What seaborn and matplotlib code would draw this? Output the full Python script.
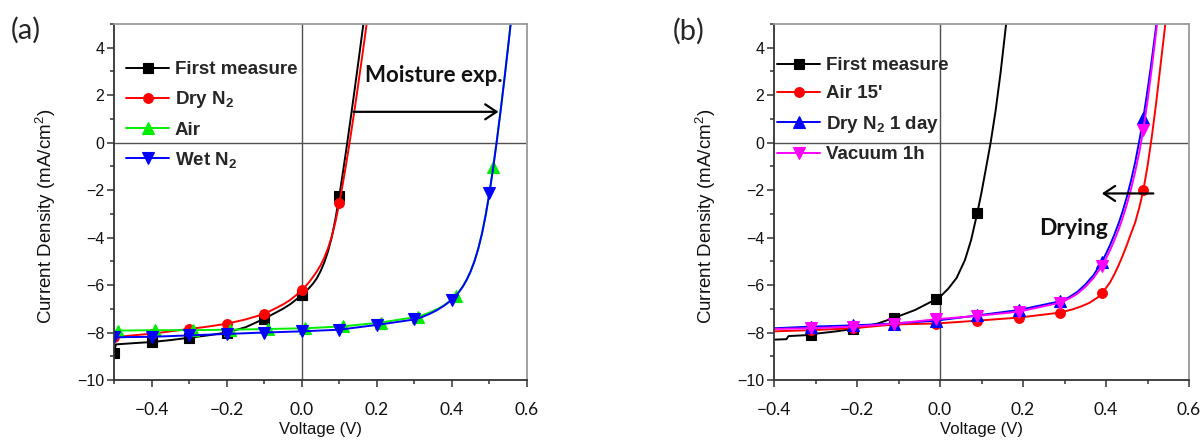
import numpy as np
import pandas as pd
import matplotlib
matplotlib.use("Agg")
import matplotlib.pyplot as plt
from matplotlib.ticker import MultipleLocator
import seaborn as sns

# ---------------- (a) moisture exposure ----------------
first_a_v = [-0.50, -0.495, -0.45, -0.40, -0.35, -0.30, -0.25, -0.20, -0.15, -0.10, -0.05,
             -0.03, -0.01, 0.00, 0.01, 0.02, 0.03, 0.04, 0.05, 0.06, 0.07, 0.08, 0.09,
             0.10, 0.11, 0.12, 0.13, 0.14, 0.15, 0.16, 0.17]
first_a_j = [-8.85, -8.50, -8.45, -8.40, -8.32, -8.22, -8.12, -8.00, -7.78, -7.42, -7.00,
             -6.80, -6.55, -6.42, -6.28, -6.12, -5.94, -5.72, -5.42, -5.05, -4.58, -3.98, -3.20,
             -2.25, -1.22, -0.14, 0.98, 2.13, 3.30, 4.50, 5.70]

drn2_a_v = [-0.50, -0.45, -0.40, -0.35, -0.30, -0.25, -0.20, -0.15, -0.10, -0.05, -0.03,
            -0.01, 0.00, 0.01, 0.02, 0.03, 0.04, 0.05, 0.06, 0.07, 0.08, 0.09, 0.10,
            0.11, 0.12, 0.13, 0.14, 0.15, 0.16, 0.17, 0.18]
drn2_a_j = [-8.20, -8.12, -8.05, -7.95, -7.85, -7.75, -7.63, -7.45, -7.22, -6.82, -6.62,
            -6.36, -6.21, -6.05, -5.87, -5.66, -5.43, -5.17, -4.85, -4.45, -3.95, -3.32, -2.55,
            -1.68, -0.74, 0.26, 1.31, 2.40, 3.52, 4.67, 5.85]

air_a_v = [-0.50, -0.49, -0.39, -0.29, -0.19, -0.09, 0.01, 0.11, 0.21, 0.31, 0.32, 0.34,
           0.36, 0.38, 0.40, 0.41, 0.42, 0.43, 0.44, 0.45, 0.46, 0.47, 0.48, 0.49, 0.50,
           0.51, 0.52, 0.53, 0.54, 0.55, 0.56]
air_a_j = [-7.93, -7.92, -7.90, -7.90, -7.88, -7.85, -7.82, -7.74, -7.58, -7.33, -7.28, -7.16,
           -7.02, -6.84, -6.60, -6.45, -6.26, -6.03, -5.75, -5.41, -4.99, -4.47, -3.83, -3.04, -2.10,
           -1.03, 0.14, 1.40, 2.72, 4.10, 5.52]

wetn2_a_v = [-0.50, -0.40, -0.30, -0.20, -0.10, 0.00, 0.10, 0.20, 0.30, 0.32, 0.34, 0.36,
             0.38, 0.40, 0.41, 0.42, 0.43, 0.44, 0.45, 0.46, 0.47, 0.48, 0.49, 0.50, 0.51,
             0.52, 0.53, 0.54, 0.55, 0.56]
wetn2_a_j = [-8.20, -8.18, -8.12, -8.06, -8.00, -7.95, -7.88, -7.68, -7.45, -7.35, -7.22, -7.06,
             -6.86, -6.62, -6.46, -6.27, -6.04, -5.76, -5.42, -5.00, -4.48, -3.84, -3.05, -2.12, -1.05,
             0.12, 1.38, 2.70, 4.08, 5.50]

# ---------------- (b) drying ----------------
first_b_v = [-0.40, -0.37, -0.365, -0.31, -0.30, -0.25, -0.21, -0.15, -0.11, -0.06, -0.01,
             0.00, 0.02, 0.04, 0.06, 0.075, 0.09, 0.10, 0.11, 0.122, 0.134, 0.146, 0.159, 0.168]
first_b_j = [-8.30, -8.28, -8.15, -8.10, -8.05, -7.95, -7.85, -7.62, -7.38, -7.05, -6.60,
             -6.50, -6.15, -5.70, -4.95, -4.10, -2.95, -2.10, -1.15, 0.00, 1.35, 2.95, 4.95, 6.40]

air15_b_v = [-0.40, -0.31, -0.21, -0.11, -0.01, 0.09, 0.19, 0.29, 0.32, 0.34, 0.36, 0.38,
             0.39, 0.40, 0.41, 0.42, 0.43, 0.44, 0.45, 0.46, 0.47, 0.48, 0.49, 0.50, 0.51,
             0.52, 0.53, 0.54, 0.55, 0.56]
air15_b_j = [-7.95, -7.90, -7.82, -7.66, -7.62, -7.50, -7.37, -7.16, -7.02, -6.90, -6.75, -6.52,
             -6.34, -6.12, -5.88, -5.55, -5.18, -4.77, -4.32, -3.84, -3.38, -2.75, -2.00, -1.00, 0.20,
             1.55, 3.05, 4.55, 6.10, 7.60]

dryday_b_v = [-0.40, -0.31, -0.21, -0.11, -0.01, 0.09, 0.19, 0.29, 0.31, 0.33, 0.35, 0.37,
              0.39, 0.40, 0.41, 0.42, 0.43, 0.44, 0.45, 0.46, 0.47, 0.48, 0.49, 0.50, 0.51,
              0.52, 0.53]
dryday_b_j = [-7.82, -7.75, -7.70, -7.62, -7.50, -7.28, -7.05, -6.68, -6.52, -6.30, -5.98, -5.58,
              -5.02, -4.68, -4.30, -3.88, -3.42, -2.90, -2.30, -1.62, -0.85, 0.05, 1.05, 2.20, 3.45,
              4.80, 6.20]

vac_b_v = [-0.40, -0.31, -0.21, -0.11, -0.01, 0.09, 0.19, 0.29, 0.31, 0.33, 0.35, 0.37,
           0.39, 0.40, 0.41, 0.42, 0.43, 0.44, 0.45, 0.46, 0.47, 0.48, 0.49, 0.50, 0.51,
           0.52, 0.53]
vac_b_j = [-7.85, -7.82, -7.75, -7.63, -7.44, -7.30, -7.12, -6.74, -6.58, -6.38, -6.08, -5.70,
           -5.20, -4.88, -4.52, -4.12, -3.68, -3.18, -2.62, -1.98, -1.25, -0.42, 0.55, 1.75, 3.10,
           4.55, 6.10]

# voltages where the symbols sit
marks_a = [-0.5, -0.4, -0.3, -0.2, -0.1, 0.0, 0.1, 0.2, 0.3, 0.4, 0.5]
marks_a_air = [-0.49, -0.39, -0.29, -0.19, -0.09, 0.01, 0.11, 0.21, 0.31, 0.41, 0.51]
marks_b = [-0.31, -0.21, -0.11, -0.01, 0.09, 0.19, 0.29, 0.39, 0.49]

labels_a = ["First measure", r"Dry N$_\mathbf{2}$", "Air", r"Wet N$_\mathbf{2}$"]
labels_b = ["First measure", "Air 15'", r"Dry N$_\mathbf{2}$ 1 day", "Vacuum 1h"]

sns.set_theme(style="ticks")
plt.rcParams["font.family"] = ["Liberation Sans", "DejaVu Sans"]
plt.rcParams["mathtext.fontset"] = "custom"
plt.rcParams["mathtext.rm"] = "Liberation Sans"
plt.rcParams["mathtext.bf"] = "Liberation Sans:bold"
plt.rcParams["mathtext.it"] = "Liberation Sans:italic"

W, H = 1204, 441
fig = plt.figure(figsize=(W / 100, H / 100), dpi=100)
fig.patch.set_facecolor("white")
ax_a = fig.add_axes([114 / W, 61 / H, 413 / W, 356 / H])
ax_b = fig.add_axes([774 / W, 61 / H, 415 / W, 356 / H])


def draw(ax, v, j, marks, color, marker, ms, label):
    df = pd.DataFrame({"V": v, "J": j})
    idx = [i for i, x in enumerate(v) if np.any(np.isclose(x, marks))]
    sns.lineplot(data=df, x="V", y="J", ax=ax, sort=False, estimator=None,
                 color=color, lw=1.4, marker=marker, markersize=ms, markevery=idx,
                 markeredgecolor=color, markeredgewidth=0.8, label=label)


draw(ax_a, first_a_v, first_a_j, marks_a, "black", "s", 6.5, labels_a[0])
draw(ax_a, drn2_a_v, drn2_a_j, marks_a, "#ff0000", "o", 7, labels_a[1])
draw(ax_a, air_a_v, air_a_j, marks_a_air, "#00ee00", "^", 8, labels_a[2])
draw(ax_a, wetn2_a_v, wetn2_a_j, marks_a, "#0000ff", "v", 8, labels_a[3])

draw(ax_b, first_b_v, first_b_j, marks_b, "black", "s", 6.5, labels_b[0])
draw(ax_b, air15_b_v, air15_b_j, marks_b, "#ff0000", "o", 7, labels_b[1])
draw(ax_b, dryday_b_v, dryday_b_j, marks_b, "#0000ff", "^", 8, labels_b[2])
draw(ax_b, vac_b_v, vac_b_j, marks_b, "#ff00ff", "v", 8, labels_b[3])

for ax, xmin in [(ax_a, -0.5), (ax_b, -0.4)]:
    ax.set_xlim(xmin, 0.6)
    ax.set_ylim(-10, 5)
    ax.set_xticks([-0.4, -0.2, 0.0, 0.2, 0.4, 0.6])
    ax.set_yticks([-10, -8, -6, -4, -2, 0, 2, 4])
    ax.xaxis.set_minor_locator(MultipleLocator(0.1))
    ax.yaxis.set_minor_locator(MultipleLocator(1))
    ax.axhline(0, color="#505050", lw=1.0, zorder=0.5)
    ax.axvline(0, color="#505050", lw=1.0, zorder=0.5)
    for side in ("left", "bottom"):
        ax.spines[side].set_color("#333333")
        ax.spines[side].set_linewidth(1.3)
    for side in ("top", "right"):
        ax.spines[side].set_visible(True)
        ax.spines[side].set_color("#9a9a9a")
        ax.spines[side].set_linewidth(1.3)
    ax.tick_params(which="both", direction="out", color="#333333", width=1.1,
                   top=False, right=False)
    ax.tick_params(which="major", length=5)
    ax.tick_params(which="minor", length=3)
    ax.tick_params(axis="x", labelsize=12.5, pad=11, labelcolor="#111111")
    ax.tick_params(axis="y", labelsize=11.5, pad=2, labelcolor="#111111")
    for lbl in ax.get_xticklabels():
        lbl.set_fontfamily(["Lato", "DejaVu Sans"])
    ax.set_xlabel("Voltage (V)", fontsize=12, color="#111111")
    ax.set_ylabel("Current Density (mA/cm$^2$)", fontsize=13.5, color="#111111")
    ax.xaxis.set_label_coords(0.5, -0.118)
    ax.yaxis.set_label_coords(-0.135, 0.46)

leg_kw = dict(loc="upper left", frameon=False, prop={"weight": "bold", "size": 13.5},
              handlelength=2.3, handletextpad=0.3, labelspacing=0.6,
              borderpad=0, borderaxespad=0)
ax_a.legend(bbox_to_anchor=(12 / 413, 1 - 37 / 356), **leg_kw)
ax_b.legend(bbox_to_anchor=(3 / 415, 1 - 33 / 356), **leg_kw)

arrow_kw = dict(arrowstyle="->,head_length=0.45,head_width=0.3", lw=1.6, color="black",
                shrinkA=0, shrinkB=0, mutation_scale=18)
ax_a.annotate("", xy=(0.524, 1.3), xytext=(0.138, 1.3), arrowprops=arrow_kw)
ax_a.text(0.169, 2.84, "Moisture exp.", fontsize=16, fontweight="bold",
          family=["Lato", "DejaVu Sans"], ha="left", va="center", color="#111111")
ax_b.annotate("", xy=(0.390, -2.14), xytext=(0.514, -2.14), arrowprops=arrow_kw)
ax_b.text(0.322, -3.6, "Drying", fontsize=16.5, fontweight="bold",
          family=["Lato", "DejaVu Sans"], ha="center", va="center", color="#111111")

fig.text(26 / W, 1 - 30 / H, "(a)", fontsize=21, family=["Lato", "DejaVu Sans"],
         ha="center", va="center")
fig.text(689 / W, 1 - 31 / H, "(b)", fontsize=21, family=["Lato", "DejaVu Sans"],
         ha="center", va="center")

fig.savefig("out.png", dpi=100, facecolor="white")
